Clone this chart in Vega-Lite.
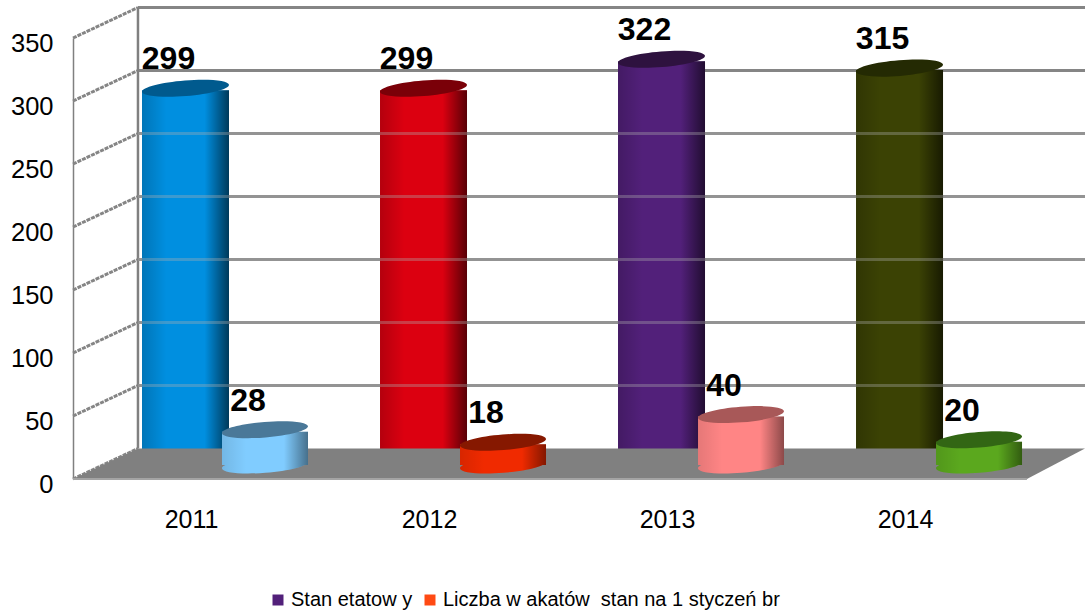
{"$schema":"https://vega.github.io/schema/vega-lite/v6.json","width":1012,"height":441,"padding":{"left":73,"top":38,"right":0,"bottom":132},"autosize":{"type":"none"},"background":"white","config":{"view":{"stroke":null},"font":"Liberation Sans"},"datasets":{"bars":[{"year":2011,"series":"Stan etatow y","cylinder":"2011 etaty","value":299},{"year":2012,"series":"Stan etatow y","cylinder":"2012 etaty","value":299},{"year":2013,"series":"Stan etatow y","cylinder":"2013 etaty","value":322},{"year":2014,"series":"Stan etatow y","cylinder":"2014 etaty","value":315},{"year":2011,"series":"Liczba w akatów  stan na 1 styczeń br","cylinder":"2011 wakaty","value":28},{"year":2012,"series":"Liczba w akatów  stan na 1 styczeń br","cylinder":"2012 wakaty","value":18},{"year":2013,"series":"Liczba w akatów  stan na 1 styczeń br","cylinder":"2013 wakaty","value":40},{"year":2014,"series":"Liczba w akatów  stan na 1 styczeń br","cylinder":"2014 wakaty","value":20}],"levels":[{"level":0},{"level":50},{"level":100},{"level":150},{"level":200},{"level":250},{"level":300},{"level":350}],"floor":[{"pos":2010.5,"top":0,"bottom":0},{"pos":2010.773,"top":24.2,"bottom":0},{"pos":2014.508,"top":24.2,"bottom":0},{"pos":2014.752,"top":24.2,"bottom":24.2}]},"resolve":{"scale":{"color":"independent"}},"layer":[{"data":{"name":"levels"},"transform":[{"filter":"datum.level > 0"}],"mark":{"type":"rule","color":"#858585","strokeWidth":3,"yOffset":-30.5},"encoding":{"x":{"datum":2010.773,"type":"quantitative","scale":{"domain":[2010.5,2014.752],"nice":false,"zero":false,"padding":0},"axis":{"title":null,"values":[2011,2012,2013,2014],"format":"d","labelFontSize":25,"labelColor":"#000","labelPadding":28,"labelOffset":-1,"ticks":false,"domain":false,"grid":false,"labelFlush":false}},"x2":{"datum":2014.752},"y":{"field":"level","type":"quantitative","scale":{"domain":[0,350],"nice":false},"axis":{"title":null,"values":[0,50,100,150,200,250,300,350],"labelFontSize":25.5,"labelColor":"#000","labelPadding":20,"labelOffset":5.5,"ticks":false,"domainColor":"#808080","domainWidth":1.5,"grid":false}}}},{"data":{"name":"levels"},"mark":{"type":"rule","color":"#858585","strokeWidth":3,"strokeDash":[4,1],"y2Offset":-30.5},"encoding":{"x":{"datum":2010.5,"type":"quantitative"},"x2":{"datum":2010.773},"y":{"field":"level","type":"quantitative"},"y2":{"field":"level"}}},{"data":{"values":[{"low":0,"high":350}]},"mark":{"type":"rule","color":"#808080","strokeWidth":2.5,"yOffset":-30.5,"y2Offset":-30.5},"encoding":{"x":{"datum":2010.773,"type":"quantitative"},"y":{"field":"low","type":"quantitative"},"y2":{"field":"high"}}},{"data":{"name":"bars"},"transform":[{"filter":{"field":"series","equal":"Stan etatow y"}}],"mark":{"type":"bar","size":87,"xOffset":-6.5,"yOffset":-12,"y2Offset":-14},"encoding":{"x":{"field":"year","type":"quantitative"},"y":{"field":"value","type":"quantitative"},"y2":{"datum":0},"color":{"field":"cylinder","type":"nominal","legend":null,"scale":{"domain":["2011 etaty","2012 etaty","2013 etaty","2014 etaty"],"range":["#008fe0","#dc0010","#52207a","#3b4204"]}}}},{"data":{"name":"bars"},"transform":[{"filter":{"field":"series","equal":"Stan etatow y"}}],"mark":{"type":"bar","size":87,"xOffset":-6.5,"yOffset":-12,"y2Offset":-14,"color":{"gradient":"linear","x1":0,"x2":1,"y1":0,"y2":0,"stops":[{"offset":0,"color":"rgba(0,0,0,0.18)"},{"offset":0.28,"color":"rgba(0,0,0,0)"},{"offset":0.72,"color":"rgba(0,0,0,0)"},{"offset":1,"color":"rgba(0,0,0,0.6)"}]}},"encoding":{"x":{"field":"year","type":"quantitative"},"y":{"field":"value","type":"quantitative"},"y2":{"datum":0}}},{"data":{"name":"bars"},"transform":[{"filter":{"field":"series","equal":"Stan etatow y"}}],"mark":{"type":"point","filled":true,"opacity":1,"size":7569,"xOffset":-6.5,"yOffset":-14,"shape":"M-1,0.08 A1,0.18 -4.6 1 1 1,-0.08 A1,0.18 -4.6 1 1 -1,0.08 Z"},"encoding":{"x":{"field":"year","type":"quantitative"},"y":{"field":"value","type":"quantitative"},"color":{"field":"cylinder","type":"nominal","legend":null,"scale":{"domain":["2011 etaty","2012 etaty","2013 etaty","2014 etaty"],"range":["#005a8e","#7a0008","#2e123f","#242a03"]}}}},{"data":{"name":"levels"},"transform":[{"filter":"datum.level > 0 && datum.level < 300"}],"mark":{"type":"rule","color":"#b0b0b0","opacity":0.35,"strokeWidth":3,"yOffset":-30.5},"encoding":{"x":{"datum":2010.773,"type":"quantitative"},"x2":{"datum":2014.752},"y":{"field":"level","type":"quantitative"}}},{"data":{"name":"floor"},"mark":{"type":"area","color":"#808080","opacity":1},"encoding":{"x":{"field":"pos","type":"quantitative"},"y":{"field":"top","type":"quantitative"},"y2":{"field":"bottom"}}},{"data":{"values":[{"level":0}]},"mark":{"type":"rule","color":"#a4a4a4","strokeWidth":2},"encoding":{"x":{"datum":2010.5,"type":"quantitative"},"x2":{"datum":2014.508},"y":{"field":"level","type":"quantitative"}}},{"data":{"name":"bars"},"transform":[{"filter":{"field":"series","equal":"Liczba w akatów  stan na 1 styczeń br"}}],"mark":{"type":"point","filled":true,"opacity":1,"size":7396,"xOffset":73,"yOffset":-14,"shape":"M-1,0.08 A1,0.18 -4.6 1 1 1,-0.08 A1,0.18 -4.6 1 1 -1,0.08 Z"},"encoding":{"x":{"field":"year","type":"quantitative"},"y":{"datum":0,"type":"quantitative"},"color":{"field":"cylinder","type":"nominal","legend":null,"scale":{"domain":["2011 wakaty","2012 wakaty","2013 wakaty","2014 wakaty"],"range":["#80ccff","#f02a00","#ff8585","#5ba81e"]}}}},{"data":{"name":"bars"},"transform":[{"filter":{"field":"series","equal":"Liczba w akatów  stan na 1 styczeń br"}}],"mark":{"type":"point","filled":true,"opacity":1,"size":7396,"xOffset":73,"yOffset":-14,"shape":"M-1,0.08 A1,0.18 -4.6 1 1 1,-0.08 A1,0.18 -4.6 1 1 -1,0.08 Z","color":{"gradient":"linear","x1":0,"x2":1,"y1":0,"y2":0,"stops":[{"offset":0,"color":"rgba(0,0,0,0.1)"},{"offset":0.28,"color":"rgba(0,0,0,0)"},{"offset":0.72,"color":"rgba(0,0,0,0)"},{"offset":1,"color":"rgba(0,0,0,0.45)"}]}},"encoding":{"x":{"field":"year","type":"quantitative"},"y":{"datum":0,"type":"quantitative"}}},{"data":{"name":"bars"},"transform":[{"filter":{"field":"series","equal":"Liczba w akatów  stan na 1 styczeń br"}}],"mark":{"type":"bar","size":86,"xOffset":73,"yOffset":-12,"y2Offset":-14},"encoding":{"x":{"field":"year","type":"quantitative"},"y":{"field":"value","type":"quantitative"},"y2":{"datum":0},"color":{"field":"cylinder","type":"nominal","legend":null,"scale":{"domain":["2011 wakaty","2012 wakaty","2013 wakaty","2014 wakaty"],"range":["#80ccff","#f02a00","#ff8585","#5ba81e"]}}}},{"data":{"name":"bars"},"transform":[{"filter":{"field":"series","equal":"Liczba w akatów  stan na 1 styczeń br"}}],"mark":{"type":"bar","size":86,"xOffset":73,"yOffset":-12,"y2Offset":-14,"color":{"gradient":"linear","x1":0,"x2":1,"y1":0,"y2":0,"stops":[{"offset":0,"color":"rgba(0,0,0,0.1)"},{"offset":0.28,"color":"rgba(0,0,0,0)"},{"offset":0.72,"color":"rgba(0,0,0,0)"},{"offset":1,"color":"rgba(0,0,0,0.45)"}]}},"encoding":{"x":{"field":"year","type":"quantitative"},"y":{"field":"value","type":"quantitative"},"y2":{"datum":0}}},{"data":{"name":"bars"},"transform":[{"filter":{"field":"series","equal":"Liczba w akatów  stan na 1 styczeń br"}}],"mark":{"type":"point","filled":true,"opacity":1,"size":7396,"xOffset":73,"yOffset":-14,"shape":"M-1,0.08 A1,0.18 -4.6 1 1 1,-0.08 A1,0.18 -4.6 1 1 -1,0.08 Z"},"encoding":{"x":{"field":"year","type":"quantitative"},"y":{"field":"value","type":"quantitative"},"color":{"field":"cylinder","type":"nominal","legend":null,"scale":{"domain":["2011 wakaty","2012 wakaty","2013 wakaty","2014 wakaty"],"range":["#4a7898","#861800","#a85858","#326614"]}}}},{"data":{"name":"bars"},"transform":[{"filter":{"field":"series","equal":"Stan etatow y"}}],"mark":{"type":"text","fontSize":32,"fontWeight":"bold","color":"#000","xOffset":-23.5,"yOffset":-43,"baseline":"middle"},"encoding":{"x":{"field":"year","type":"quantitative"},"y":{"field":"value","type":"quantitative"},"text":{"field":"value","type":"quantitative"}}},{"data":{"name":"bars"},"transform":[{"filter":{"field":"series","equal":"Liczba w akatów  stan na 1 styczeń br"}}],"mark":{"type":"text","fontSize":32,"fontWeight":"bold","color":"#000","xOffset":56,"yOffset":-43,"baseline":"middle"},"encoding":{"x":{"field":"year","type":"quantitative"},"y":{"field":"value","type":"quantitative"},"text":{"field":"value","type":"quantitative"}}},{"data":{"name":"bars"},"mark":{"type":"point","filled":true,"opacity":0},"encoding":{"x":{"field":"year","type":"quantitative"},"y":{"field":"value","type":"quantitative"},"color":{"field":"series","type":"nominal","scale":{"domain":["Stan etatow y","Liczba w akatów  stan na 1 styczeń br"],"range":["#52207a","#ff4a14"]},"legend":{"orient":"none","legendX":195,"legendY":552,"direction":"horizontal","columns":2,"title":null,"symbolType":"square","symbolSize":121,"symbolOpacity":1,"labelFontSize":20,"labelColor":"#000","columnPadding":7,"labelOffset":3,"labelLimit":500,"labelExpr":"replace(datum.label, '  ', ' \u00a0')"}}}}]}
